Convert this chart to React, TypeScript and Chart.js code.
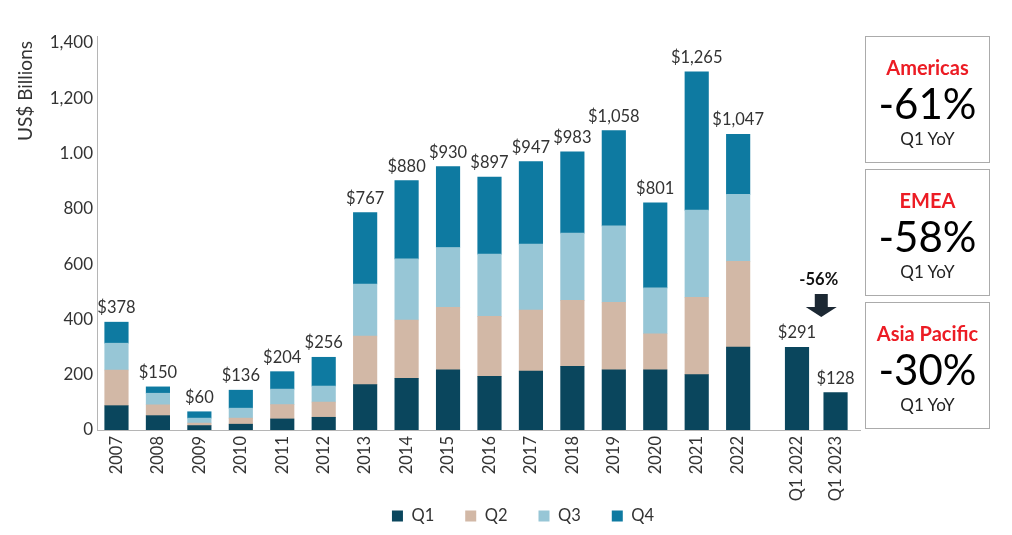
import React, { useEffect, useRef } from 'react';
import { Chart, registerables } from 'chart.js';

Chart.register(...registerables);

// ---------- data ----------
const categories = ['2007', '2008', '2009', '2010', '2011', '2012', '2013', '2014', '2015', '2016', '2017', '2018', '2019', '2020', '2021', '2022', 'Q1 2022', 'Q1 2023'];
const seriesNames = ['Q1', 'Q2', 'Q3', 'Q4'];
const q1Values = [88, 52, 16, 21, 40, 46, 164, 187, 218, 194, 213, 230, 218, 218, 200, 300, 299, 135];
const q2Values = [129, 39, 9, 22, 52, 55, 176, 211, 226, 217, 221, 239, 244, 130, 280, 310, null, null];
const q3Values = [97, 42, 18, 36, 56, 58, 188, 221, 216, 225, 238, 243, 276, 166, 315, 242, null, null];
const q4Values = [76, 23, 23, 65, 63, 104, 258, 283, 293, 279, 299, 294, 345, 308, 500, 217, null, null];
const totalLabels = ['$378', '$150', '$60', '$136', '$204', '$256', '$767', '$880', '$930', '$897', '$947', '$983', '$1,058', '$801', '$1,265', '$1,047', '$291', '$128'];
const yTickValues = [0, 200, 400, 600, 800, 1000, 1200, 1400];
const yTickLabels = ['0', '200', '400', '600', '800', '1.00', '1,200', '1,400'];
const yAxisTitle = 'US$ Billions';
const q1ChangeLabel = '-56%';
const regionNames = ['Americas', 'EMEA', 'Asia Pacific'];
const regionChanges = ['-61%', '-58%', '-30%'];
const regionPeriod = 'Q1 YoY';

// ---------- styles / layout ----------
const COLORS = ['#0a465d', '#d2b8a6', '#97c6d6', '#0e7aa1'];
const FONT = 'Lato, "Open Sans", sans-serif';
const TEXT = '#333333';
const GAP_AFTER_YEARS = 1.42;
const LAST_PAIR_STEP = 0.93;
const LEGEND_CX = 523;
const LEGEND_CY = 516;
const xPositions = categories.map((_, i) => (i <= 15 ? i : 15 + GAP_AFTER_YEARS + (i - 16) * LAST_PAIR_STEP));
const seriesValues = [q1Values, q2Values, q3Values, q4Values];

const totalsPlugin = {
  id: 'totals',
  afterDatasetsDraw(chart: any) {
    const ctx = chart.ctx;
    ctx.save();
    ctx.font = `16.5px ${FONT}`;
    ctx.fillStyle = TEXT;
    ctx.textAlign = 'center';
    ctx.textBaseline = 'alphabetic';
    categories.forEach((_, i) => {
      let top = Infinity;
      let x = 0;
      chart.data.datasets.forEach((ds: any, d: number) => {
        const v = ds.data[i].y;
        if (v !== null && v !== undefined) {
          const el = chart.getDatasetMeta(d).data[i];
          if (el.y < top) { top = el.y; x = el.x; }
        }
      });
      if (top < Infinity) ctx.fillText(totalLabels[i], x, top - 9);
    });
    ctx.restore();
  },
};

const decorPlugin = {
  id: 'decor',
  afterDraw(chart: any) {
    const ctx = chart.ctx;
    const xs = chart.scales.x;
    const ys = chart.scales.y;
    // y-axis title
    ctx.save();
    ctx.font = `19px ${FONT}`;
    ctx.fillStyle = TEXT;
    ctx.textAlign = 'center';
    ctx.textBaseline = 'middle';
    ctx.translate(26, chart.chartArea.top + 55);
    ctx.rotate(-Math.PI / 2);
    ctx.fillText(yAxisTitle, 0, 0);
    ctx.restore();

    // legend
    ctx.save();
    ctx.font = `16.5px ${FONT}`;
    ctx.textBaseline = 'middle';
    ctx.textAlign = 'left';
    const box = 11;
    const gap = 8.5;
    const spacing = 31;
    const items = chart.data.datasets.map((ds: any) => ({
      text: ds.label,
      color: ds.backgroundColor,
      w: box + gap + ctx.measureText(ds.label).width,
    }));
    const total = items.reduce((a: number, it: any) => a + it.w, 0) + spacing * (items.length - 1);
    let x = LEGEND_CX - total / 2;
    items.forEach((it: any) => {
      ctx.fillStyle = it.color;
      ctx.fillRect(x, LEGEND_CY - box / 2, box, box);
      ctx.fillStyle = TEXT;
      ctx.fillText(it.text, x + box + gap, LEGEND_CY);
      x += it.w + spacing;
    });
    ctx.restore();

    // -56% annotation with down arrow
    const cx = (xs.getPixelForValue(xPositions[16]) + xs.getPixelForValue(xPositions[17])) / 2 + 5;
    ctx.save();
    ctx.font = `bold 16.5px ${FONT}`;
    ctx.fillStyle = '#111111';
    ctx.textAlign = 'center';
    ctx.textBaseline = 'middle';
    ctx.fillText(q1ChangeLabel, cx - 2.5, ys.getPixelForValue(543));
    const yTop = ys.getPixelForValue(492);
    const yMid = ys.getPixelForValue(445);
    const yBot = ys.getPixelForValue(409);
    ctx.fillStyle = '#1c2833';
    ctx.beginPath();
    ctx.moveTo(cx - 6.5, yTop);
    ctx.lineTo(cx + 6.5, yTop);
    ctx.lineTo(cx + 6.5, yMid);
    ctx.lineTo(cx + 15.5, yMid);
    ctx.lineTo(cx, yBot);
    ctx.lineTo(cx - 15.5, yMid);
    ctx.lineTo(cx - 6.5, yMid);
    ctx.closePath();
    ctx.fill();
    ctx.restore();
  },
};

function RegionBox({ top, name, change }: { top: number; name: string; change: string }) {
  const line = (y: number, h: number, style: any, text: string) => (
    <div style={{ position: 'absolute', left: 0, width: '100%', top: y - h / 2, height: h, lineHeight: `${h}px`, textAlign: 'center', whiteSpace: 'nowrap', ...style }}>{text}</div>
  );
  return (
    <div style={{ position: 'absolute', left: 865, top, width: 125, height: 127, border: '1px solid #ababab', boxSizing: 'border-box', fontFamily: FONT }}>
      {line(30, 24, { color: '#ec1c24', fontWeight: 700, fontSize: 20 }, name)}
      {line(65.5, 50, { color: '#000', fontWeight: 400, fontSize: 42 }, change)}
      {line(102, 22, { color: '#222', fontWeight: 400, fontSize: 17 }, regionPeriod)}
    </div>
  );
}

export default function App() {
  const ref = useRef<HTMLCanvasElement | null>(null);
  useEffect(() => {
    if (!ref.current) return;
    const chart = new Chart(ref.current, {
      type: 'bar',
      data: {
        datasets: seriesNames.map((name, s) => ({
          label: name,
          data: xPositions.map((x, i) => ({ x, y: seriesValues[s][i] })),
          backgroundColor: COLORS[s],
          borderWidth: 0,
          barThickness: 23.5,
        })),
      },
      options: {
        responsive: false,
        animation: false,
        layout: { padding: { left: 34, right: 0, top: 36, bottom: 5 } },
        plugins: {
          tooltip: { enabled: false },
          legend: { display: false },
        },
        scales: {
          x: {
            type: 'linear',
            stacked: true,
            offset: false,
            min: -0.47,
            max: 17.94,
            grid: { display: false, drawTicks: false, offset: false },
            border: { display: true, color: '#b5b5b5', width: 1 },
            afterBuildTicks: (scale: any) => {
              scale.ticks = xPositions.map((v) => ({ value: v }));
            },
            afterFit: (scale: any) => {
              scale.height = 100;
            },
            ticks: {
              autoSkip: false,
              maxRotation: 90,
              minRotation: 90,
              padding: 6,
              color: TEXT,
              font: { family: FONT, size: 16.5 },
              callback: (_v: any, i: number) => categories[i],
            },
          },
          y: {
            stacked: true,
            min: 0,
            max: 1425,
            grid: { display: false, drawTicks: false },
            border: { display: true, color: '#b5b5b5', width: 1 },
            afterBuildTicks: (scale: any) => {
              scale.ticks = yTickValues.map((v) => ({ value: v }));
            },
            afterFit: (scale: any) => {
              scale.width = 63;
            },
            ticks: {
              padding: 4,
              color: TEXT,
              font: { family: FONT, size: 17 },
              callback: (_v: any, i: number) => yTickLabels[i],
            },
          },
          yRight: {
            type: 'linear',
            position: 'right',
            display: true,
            grid: { display: false, drawTicks: false },
            border: { display: false },
            ticks: { display: false },
            afterFit: (scale: any) => {
              scale.width = 152;
            },
          },
        },
      } as any,
      plugins: [totalsPlugin, decorPlugin],
    });
    return () => chart.destroy();
  }, []);

  return (
    <div style={{ position: 'absolute', left: 0, top: 0, width: 1012, height: 535, background: '#fff' }}>
      <canvas ref={ref} width={1012} height={535} style={{ display: 'block', width: 1012, height: 535 }} />
      {regionNames.map((name, i) => (
        <RegionBox key={name} top={36 + i * 133} name={name} change={regionChanges[i]} />
      ))}
    </div>
  );
}
